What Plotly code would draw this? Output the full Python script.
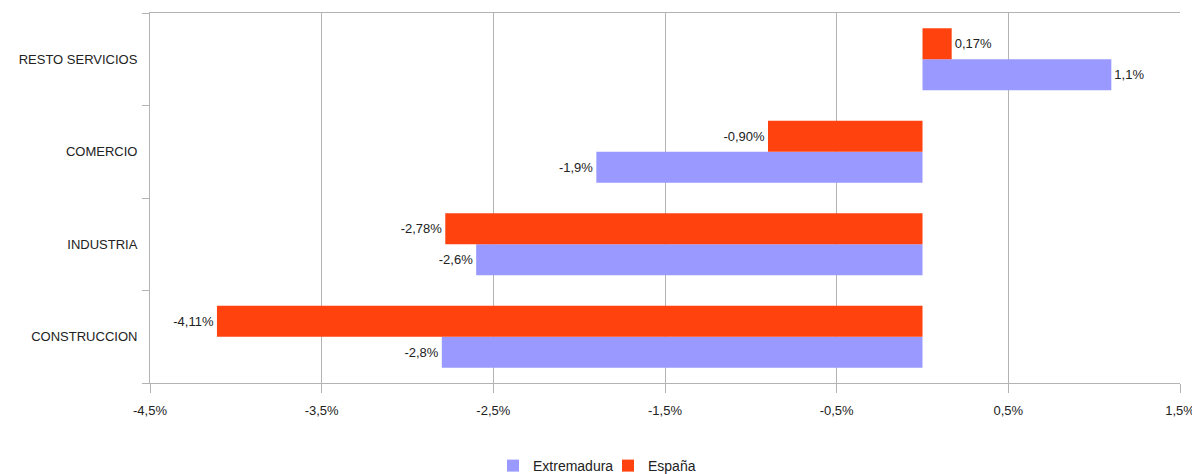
import plotly.graph_objects as go

# ------------------- Data -------------------
sectores = ["CONSTRUCCION", "INDUSTRIA", "COMERCIO", "RESTO SERVICIOS"]
extremadura = [-2.8, -2.6, -1.9, 1.1]
espana = [-4.11, -2.78, -0.90, 0.17]

x_ticks = [-4.5, -3.5, -2.5, -1.5, -0.5, 0.5, 1.5]
x_tick_labels = ["-4,5%", "-3,5%", "-2,5%", "-1,5%", "-0,5%", "0,5%", "1,5%"]


def fmt(v, dec):
    return f"{v:.{dec}f}".replace(".", ",") + "%"


GRID = "#b3b3b3"
FONT = "Liberation Sans, Arial, sans-serif"

fig = go.Figure()
fig.add_trace(go.Bar(
    y=sectores, x=extremadura, orientation="h", name="Extremadura",
    marker=dict(color="#9999ff", line=dict(width=0)),
    text=[fmt(v, 1) for v in extremadura], textposition="outside",
    textfont=dict(size=13, color="#222222"), constraintext="none",
    cliponaxis=False,
))
fig.add_trace(go.Bar(
    y=sectores, x=espana, orientation="h", name="España",
    marker=dict(color="#ff420e", line=dict(width=0)),
    text=[fmt(v, 2) for v in espana], textposition="outside",
    textfont=dict(size=13, color="#222222"), constraintext="none",
    cliponaxis=False,
))

# the page body adds an 8px offset, margins compensate for it
fig.update_layout(
    width=1200, height=474,
    margin=dict(l=142, r=28, t=5, b=99, autoexpand=False),
    plot_bgcolor="white", paper_bgcolor="white",
    font=dict(family=FONT, size=13, color="#222222"),
    barmode="group", bargap=0.33, bargroupgap=0,
    showlegend=True,
    legend=dict(
        orientation="h", xref="container", yref="container",
        x=0.5, xanchor="center", y=0.0, yanchor="bottom",
        font=dict(size=14), itemwidth=30, traceorder="normal",
        entrywidth=70, entrywidthmode="pixels",
    ),
    xaxis=dict(
        range=[-4.5, 1.5], tickvals=x_ticks, ticktext=x_tick_labels,
        showgrid=True, gridcolor=GRID, gridwidth=1, zeroline=False,
        showline=True, linecolor=GRID, linewidth=1, mirror=True,
        ticks="outside", ticklen=9, tickcolor=GRID, ticklabelstandoff=6,
        automargin=False,
    ),
    yaxis=dict(
        categoryorder="array", categoryarray=sectores,
        showgrid=False, zeroline=False,
        showline=True, linecolor=GRID, linewidth=1,
        ticks="outside", ticklen=7, tickcolor=GRID, tickson="boundaries",
        ticklabelstandoff=9, automargin=False,
    ),
)

fig.write_html("out.html")
